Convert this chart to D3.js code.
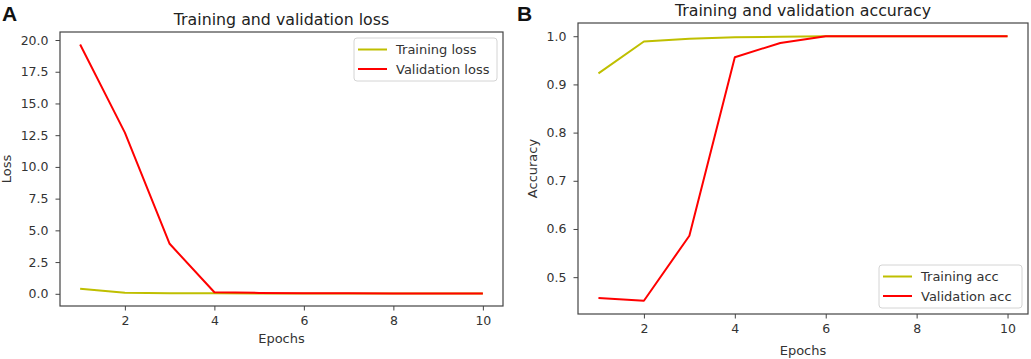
<!DOCTYPE html>
<html>
<head>
<meta charset="utf-8">
<script src="https://cdn.jsdelivr.net/npm/d3@7"></script>
<style>
  body { margin: 0; background: #fff; }
  svg { display: block; font-family: "DejaVu Sans", sans-serif; }
  .axis path, .axis line { stroke: #444; }
</style>
</head>
<body>
<div id="chart"></div>
<script>
const epochs = [1, 2, 3, 4, 5, 6, 7, 8, 9, 10];
const trainLoss = [0.39, 0.08, 0.05, 0.04, 0.03, 0.02, 0.02, 0.02, 0.02, 0.02];
const valLoss = [19.65, 12.7, 3.94, 0.12, 0.07, 0.05, 0.04, 0.03, 0.03, 0.03];
const trainAcc = [0.923, 0.989, 0.995, 0.998, 0.999, 1.0, 1.0, 1.0, 1.0, 1.0];
const valAcc = [0.4565, 0.451, 0.586, 0.9565, 0.986, 1.0, 1.0, 1.0, 1.0, 1.0];
const lossTicks = [0, 2.5, 5, 7.5, 10, 12.5, 15, 17.5, 20];
const accTicks = [0.5, 0.6, 0.7, 0.8, 0.9, 1.0];
const epochTicks = [2, 4, 6, 8, 10];

const svg = d3.select('#chart')
  .append('svg')
  .attr('width', 1031)
  .attr('height', 359);

function styleAxis(a) {
  a.attr('font-family', null).attr('font-size', null);
  a.select('.domain').remove();
  a.selectAll('text')
    .style('font-family', '"DejaVu Sans", sans-serif')
    .style('font-size', '12.5px')
    .style('fill', '#333');
}

function panel(cfg) {
  const width = cfg.right - cfg.left;
  const height = cfg.bottom - cfg.top;
  const g = svg.append('g')
    .attr('transform', `translate(${cfg.left},${cfg.top})`);

  // matplotlib-style 5% padding on both axes
  const xPad = (d3.max(epochs) - d3.min(epochs)) * 0.05;
  const xScale = d3.scaleLinear()
    .domain([d3.min(epochs) - xPad, d3.max(epochs) + xPad])
    .range([0, width]);
  const all = cfg.series.flatMap((s) => s.values);
  const yPad = (d3.max(all) - d3.min(all)) * 0.05;
  const yScale = d3.scaleLinear()
    .domain([d3.min(all) - yPad, d3.max(all) + yPad])
    .range([height, 0]);

  const xAxis = d3.axisBottom(xScale)
    .tickValues(epochTicks)
    .tickFormat(d3.format('d'))
    .tickSize(4.5)
    .tickSizeOuter(0)
    .tickPadding(5.5);
  const yAxis = d3.axisLeft(yScale)
    .tickValues(cfg.yTicks)
    .tickFormat(d3.format('.1f'))
    .tickSize(4.5)
    .tickSizeOuter(0)
    .tickPadding(7);

  g.append('g').attr('class', 'axis')
    .attr('transform', `translate(0,${height})`)
    .call(xAxis)
    .call(styleAxis);
  g.append('g').attr('class', 'axis')
    .call(yAxis)
    .call(styleAxis);

  const line = d3.line()
    .x((d, i) => xScale(epochs[i]))
    .y((d) => yScale(d));

  cfg.series.forEach((s) => {
    g.append('path')
      .datum(s.values)
      .attr('fill', 'none')
      .attr('stroke', s.color)
      .attr('stroke-width', 2)
      .attr('stroke-linejoin', 'round')
      .attr('d', line);
  });

  // frame
  g.append('rect')
    .attr('width', width)
    .attr('height', height)
    .attr('fill', 'none')
    .attr('stroke', '#444')
    .attr('stroke-width', 1.2);

  g.append('text')
    .attr('x', width / 2)
    .attr('y', cfg.titleY - cfg.top)
    .attr('text-anchor', 'middle')
    .style('font-size', '15.8px')
    .style('fill', '#222')
    .text(cfg.title);

  g.append('text')
    .attr('x', width / 2)
    .attr('y', cfg.xLabelY - cfg.top)
    .attr('text-anchor', 'middle')
    .style('font-size', '13px')
    .style('fill', '#333')
    .text('Epochs');

  g.append('text')
    .attr('transform', `translate(${cfg.yLabelX - cfg.left},${height / 2}) rotate(-90)`)
    .attr('text-anchor', 'middle')
    .style('font-size', '13px')
    .style('fill', '#333')
    .text(cfg.yLabel);

  svg.append('text')
    .attr('x', cfg.letterX)
    .attr('y', 21)
    .style('font-family', '"Liberation Sans", Arial, sans-serif')
    .style('font-weight', 'bold')
    .style('font-size', '21px')
    .style('fill', '#111')
    .text(cfg.letter);

  // legend
  const lg = svg.append('g')
    .attr('transform', `translate(${cfg.legend.x},${cfg.legend.y})`);
  lg.append('rect')
    .attr('width', cfg.legend.w)
    .attr('height', 43)
    .attr('rx', 3)
    .attr('fill', '#fff')
    .attr('fill-opacity', 0.8)
    .attr('stroke', '#d4d4d4');
  cfg.series.forEach((s, i) => {
    const cy = 11.5 + i * 19.5;
    lg.append('line')
      .attr('x1', 4).attr('x2', 33)
      .attr('y1', cy).attr('y2', cy)
      .attr('stroke', s.color)
      .attr('stroke-width', 2);
    lg.append('text')
      .attr('x', 42)
      .attr('y', cy)
      .attr('dy', '0.35em')
      .style('font-size', '13px')
      .style('fill', '#333')
      .text(s.name);
  });
}

panel({
  left: 60, right: 503, top: 32, bottom: 306,
  title: 'Training and validation loss', titleY: 25,
  xLabelY: 343, yLabel: 'Loss', yLabelX: 11,
  letter: 'A', letterX: 2,
  yTicks: lossTicks,
  legend: { x: 354, y: 38, w: 143 },
  series: [
    { name: 'Training loss', values: trainLoss, color: '#bfbf00' },
    { name: 'Validation loss', values: valLoss, color: '#ff0000' },
  ],
});

panel({
  left: 578, right: 1028, top: 23, bottom: 314,
  title: 'Training and validation accuracy', titleY: 16,
  xLabelY: 355, yLabel: 'Accuracy', yLabelX: 537,
  letter: 'B', letterX: 517,
  yTicks: accTicks,
  legend: { x: 879, y: 265, w: 143 },
  series: [
    { name: 'Training acc', values: trainAcc, color: '#bfbf00' },
    { name: 'Validation acc', values: valAcc, color: '#ff0000' },
  ],
});
</script>
</body>
</html>
